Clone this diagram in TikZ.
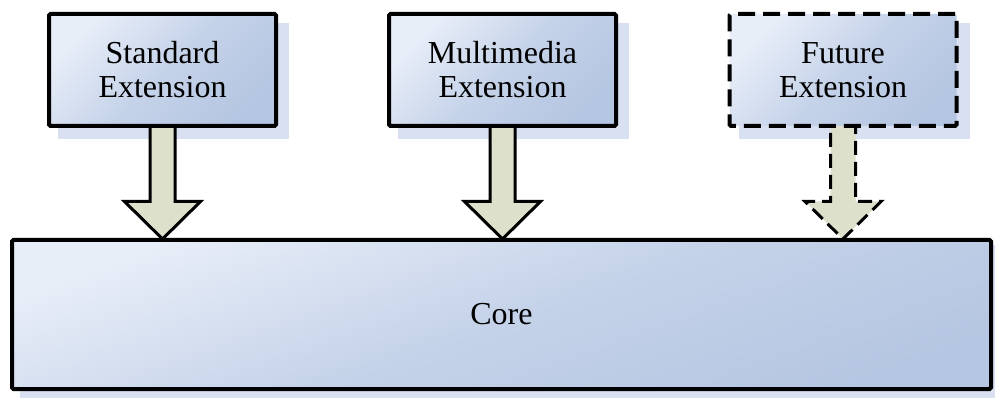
\documentclass[tikz,border=0pt]{standalone}
\usepackage{fontspec}
\setmainfont{Liberation Serif}
\usetikzlibrary{calc}

\definecolor{boxlight}{RGB}{232,238,248}
\definecolor{boxdark}{RGB}{181,198,226}
\colorlet{boxmid}{boxdark!68!boxlight}
\definecolor{arrowfill}{RGB}{221,225,204}
\definecolor{shadowblue}{RGB}{216,224,241}

\pgfdeclarelayer{shadowlayer}
\pgfdeclarelayer{arrowlayer}
\pgfsetlayers{shadowlayer,arrowlayer,main}

\tikzset{
  module/.style={rectangle, draw=black, line width=4pt, rounded corners=1.5pt,
    top color=boxlight, bottom color=boxdark, middle color=boxmid, shading angle=45,
    minimum width=227pt, minimum height=112pt, align=center, inner sep=0pt,
    font=\fontsize{32}{34}\selectfont},
  corebox/.style={module, shading angle=20, minimum width=979pt, minimum height=149pt},
  planned/.style={dash pattern=on 17pt off 8pt},
  blockarrow/.style={draw=black, line width=3pt, fill=arrowfill, line join=miter},
  plannedarrow/.style={blockarrow, dash pattern=on 14pt off 7pt},
  shadowbox/.style={fill=shadowblue}
}

% block arrow from the bottom of an extension box down to the core
\newcommand{\extarrow}[3]{%
  \path[#3] let \p1=(#1.south), \p2=(#2.north) in
    (\x1-12.5pt,\y1+4pt) -- (\x1+12.5pt,\y1+4pt) -- (\x1+12.5pt,\y2+36.5pt)
    -- (\x1+38pt,\y2+36.5pt) -- (\x1,\y2-1pt) -- (\x1-38pt,\y2+36.5pt)
    -- (\x1-12.5pt,\y2+36.5pt) -- cycle;
}

\begin{document}
\begin{tikzpicture}[x=1pt,y=1pt]
  \useasboundingbox (0,0) rectangle (995,399);

  \node[module] (std) at (162.5,329) {Standard\\Extension};
  \node[module] (mm)  at (502.5,329) {Multimedia\\Extension};
  \node[module, planned] (fut) at (843,329) {Future\\Extension};
  \node[corebox] (core) at (501.5,84.5) {Core};

  \begin{pgfonlayer}{arrowlayer}
    \extarrow{std}{core}{blockarrow}
    \extarrow{mm}{core}{blockarrow}
    \extarrow{fut}{core}{plannedarrow}
  \end{pgfonlayer}

  \begin{pgfonlayer}{shadowlayer}
    \foreach \n in {std,mm,fut}
      \fill[shadowbox] ($(\n.south west)+(11pt,-11pt)$) rectangle ($(\n.north east)+(11pt,-11pt)$);
    \fill[shadowbox] ($(core.south west)+(10pt,-7pt)$) rectangle ($(core.north east)+(10pt,-7pt)$);
  \end{pgfonlayer}
\end{tikzpicture}
\end{document}
